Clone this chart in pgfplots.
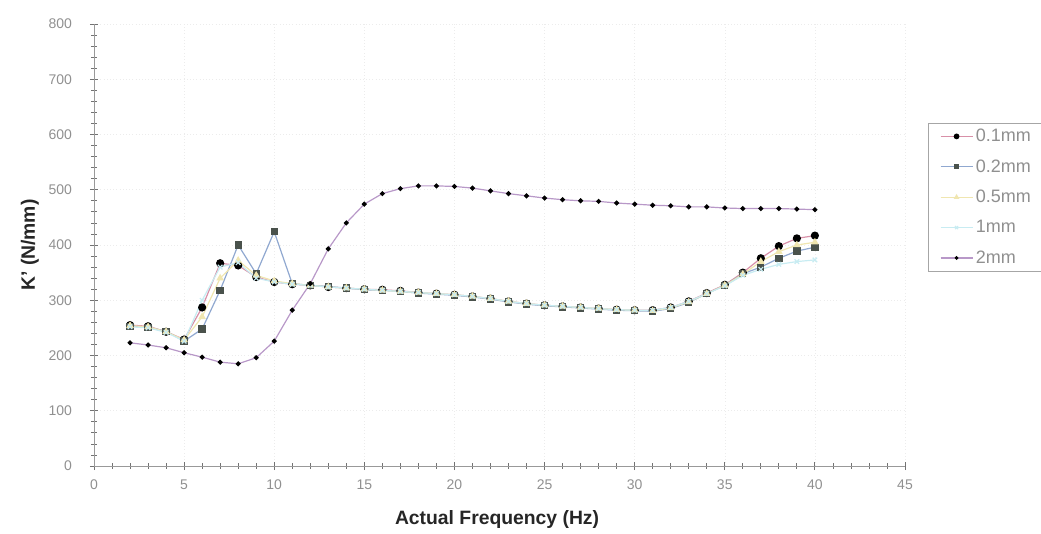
\documentclass[border=0pt]{standalone}
\usepackage{pgfplots}
\pgfplotsset{compat=1.18}
\usepackage{fontspec}
\setmainfont{Liberation Sans}
\definecolor{lineA}{HTML}{D890A8}
\definecolor{lineB}{HTML}{90A8D0}
\definecolor{lineC}{HTML}{F0E6B0}
\definecolor{lineD}{HTML}{C8ECF2}
\definecolor{lineE}{HTML}{B898C8}
\definecolor{markB}{HTML}{4A524C}
\definecolor{tickc}{HTML}{909090}
\begin{document}
\begin{tikzpicture}[x=1pt,y=1pt]
\path[use as bounding box] (-70.5,-50.25) rectangle (710.25,349.5);
\begin{axis}[
  at={(0,0)}, anchor=south west,
  scale only axis, width=608.25pt, height=331.5pt,
  xmin=0, xmax=45, ymin=0, ymax=800,
  xtick={0,5,...,45}, ytick={0,100,...,800},
  minor x tick num=4, minor y tick num=4,
  axis x line=bottom, axis y line=left,
  axis line style={draw=gray!80, -},
  tick align=center,
  major tick length=6pt, minor tick length=4pt,
  every tick/.style={draw=gray!90!black, line width=0.6pt},
  ticklabel style={font=\fontsize{10.5}{12}\selectfont, text=tickc},
  /pgf/number format/assume math mode=true,
  xticklabel style={yshift=-4pt},
  yticklabel style={xshift=-10pt},
  grid=major, major grid style={draw=gray!15, dotted},
  xlabel={\textbf{Actual Frequency (Hz)}},
  ylabel={\textbf{K' (N/mm)}},
  label style={font=\fontsize{14.5}{16}\selectfont, text=black!85},
  xlabel style={at={(axis description cs:0.497,-0.122)}, anchor=center},
  ylabel style={at={(axis description cs:-0.079,0.5)}, anchor=center, rotate=0},
  legend style={at={(axis description cs:1.028,0.777)}, anchor=north west,
    draw=gray!70, font=\fontsize{13.5}{15}\selectfont, text=tickc,
    row sep=7.9pt, inner xsep=9pt, inner ysep=2.7pt, cells={anchor=west}},
  legend image code/.code={\draw[#1, mark=none] (0pt,0pt) -- (24pt,0pt); \path[#1, every mark/.append style={scale=0.65}] plot coordinates {(12pt,0pt)};},
  clip=false,
]
\addplot[color=lineA, line width=0.9pt, mark=*, mark size=2.6pt, mark options={fill=black, draw=black}] coordinates {
(2,255)(3,253)(4,243)(5,229)(6,287)(7,367)(8,363)(9,342)(10,333)(11,329)(12,327)(13,324)(14,322)(15,320)(16,319)(17,317)(18,314)(19,312)(20,310)(21,307)(22,303)(23,298)(24,294)(25,291)(26,289)(27,287)(28,285)(29,283)(30,282)(31,282)(32,287)(33,298)(34,313)(35,328)(36,350)(37,376)(38,398)(39,412)(40,417)};
\addlegendentry{0.1mm}
\addplot[color=lineB, line width=0.9pt, mark=square*, mark size=2.3pt, mark options={fill=markB, draw=markB}] coordinates {
(2,253)(3,251)(4,244)(5,226)(6,248)(7,318)(8,400)(9,348)(10,424)(11,330)(12,327)(13,325)(14,322)(15,319)(16,318)(17,316)(18,313)(19,311)(20,309)(21,306)(22,302)(23,297)(24,293)(25,290)(26,288)(27,286)(28,284)(29,282)(30,281)(31,280)(32,285)(33,296)(34,312)(35,327)(36,348)(37,360)(38,376)(39,389)(40,396)};
\addlegendentry{0.2mm}
\addplot[color=lineC, line width=0.9pt, mark=triangle*, mark size=2.4pt, mark options={fill=lineC, draw=lineC}] coordinates {
(2,254)(3,252)(4,243)(5,228)(6,270)(7,340)(8,372)(9,345)(10,335)(11,330)(12,327)(13,324)(14,322)(15,320)(16,318)(17,316)(18,314)(19,312)(20,310)(21,307)(22,303)(23,298)(24,294)(25,291)(26,289)(27,287)(28,285)(29,283)(30,282)(31,281)(32,286)(33,297)(34,312)(35,327)(36,347)(37,370)(38,388)(39,400)(40,405)};
\addlegendentry{0.5mm}
\addplot[color=lineD, line width=0.9pt, mark=x, mark size=2.4pt, mark options={draw=lineD}] coordinates {
(2,252)(3,250)(4,242)(5,226)(6,300)(7,360)(8,368)(9,340)(10,333)(11,329)(12,327)(13,324)(14,322)(15,320)(16,318)(17,316)(18,314)(19,312)(20,310)(21,307)(22,303)(23,298)(24,294)(25,291)(26,289)(27,287)(28,285)(29,283)(30,282)(31,282)(32,287)(33,298)(34,312)(35,326)(36,345)(37,356)(38,365)(39,370)(40,373)};
\addlegendentry{1mm}
\addplot[color=lineE, line width=0.9pt, mark=*, mark size=1.4pt, mark options={fill=black, draw=black}] coordinates {
(2,223)(3,219)(4,214)(5,205)(6,197)(7,188)(8,185)(9,196)(10,226)(11,282)(12,330)(13,393)(14,440)(15,474)(16,493)(17,502)(18,507)(19,507)(20,506)(21,503)(22,498)(23,493)(24,489)(25,485)(26,482)(27,480)(28,479)(29,476)(30,474)(31,472)(32,471)(33,469)(34,469)(35,467)(36,466)(37,466)(38,466)(39,465)(40,464)};
\addlegendentry{2mm}
\end{axis}
\end{tikzpicture}
\end{document}
